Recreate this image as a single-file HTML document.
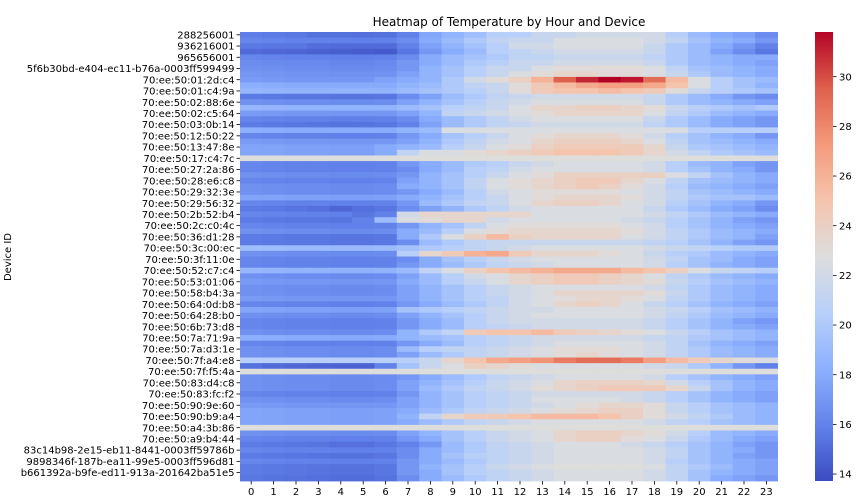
<!DOCTYPE html>
<html><head><meta charset="utf-8">
<style>
html,body{margin:0;padding:0;background:#fff;}
svg{display:block;font-family:"DejaVu Sans","Liberation Sans",sans-serif;}
</style></head>
<body>
<svg id="chart" width="864" height="501" viewBox="0 0 864 501" xmlns="http://www.w3.org/2000/svg">
<text x="509" y="26" text-anchor="middle" font-size="12" fill="#000">Heatmap of Temperature by Hour and Device</text>
<text transform="translate(11,257) rotate(-90)" text-anchor="middle" font-size="10" fill="#000">Device ID</text>
<g id="cells"></g>
<g id="yticks"></g>
<g id="xticks"></g>
<defs><linearGradient id="cbgrad" x1="0" y1="1" x2="0" y2="0">
<stop offset="0" stop-color="rgb(59,76,192)"/><stop offset="0.125" stop-color="rgb(98,130,234)"/><stop offset="0.25" stop-color="rgb(141,176,254)"/><stop offset="0.375" stop-color="rgb(184,208,249)"/><stop offset="0.5" stop-color="rgb(221,221,221)"/><stop offset="0.625" stop-color="rgb(245,196,173)"/><stop offset="0.75" stop-color="rgb(244,154,123)"/><stop offset="0.875" stop-color="rgb(222,96,77)"/><stop offset="1" stop-color="rgb(180,4,38)"/>
</linearGradient></defs>
<rect x="815" y="32" width="18" height="449" fill="url(#cbgrad)"/>
<g id="cbticks"></g>
</svg>
<script>
const hours = [0,1,2,3,4,5,6,7,8,9,10,11,12,13,14,15,16,17,18,19,20,21,22,23];
const yLabels = ["288256001","936216001","965656001","5f6b30bd-e404-ec11-b76a-0003ff599499","70:ee:50:01:2d:c4","70:ee:50:01:c4:9a","70:ee:50:02:88:6e","70:ee:50:02:c5:64","70:ee:50:03:0b:14","70:ee:50:12:50:22","70:ee:50:13:47:8e","70:ee:50:17:c4:7c","70:ee:50:27:2a:86","70:ee:50:28:e6:c8","70:ee:50:29:32:3e","70:ee:50:29:56:32","70:ee:50:2b:52:b4","70:ee:50:2c:c0:4c","70:ee:50:36:d1:28","70:ee:50:3c:00:ec","70:ee:50:3f:11:0e","70:ee:50:52:c7:c4","70:ee:50:53:01:06","70:ee:50:58:b4:3a","70:ee:50:64:0d:b8","70:ee:50:64:28:b0","70:ee:50:6b:73:d8","70:ee:50:7a:71:9a","70:ee:50:7a:d3:1e","70:ee:50:7f:a4:e8","70:ee:50:7f:f5:4a","70:ee:50:83:d4:c8","70:ee:50:83:fc:f2","70:ee:50:90:9e:60","70:ee:50:90:b9:a4","70:ee:50:a4:3b:86","70:ee:50:a9:b4:44","83c14b98-2e15-eb11-8441-0003ff59786b","9898346f-187b-ea11-99e5-0003ff596d81","b661392a-b9fe-ed11-913a-201642ba51e5"];
const cbTicks = [14,16,18,20,22,24,26,28,30];
const temps = [
[15.8,15.7,15.6,15.3,15.3,15.2,15.3,16,17.8,18.5,19.3,20.5,20.5,21.5,21.5,22,22,22,22,20.5,19,18,17.5,16.5],
[16.2,16.1,16,16,16,15.9,16,16.5,18,19,20,21,21.5,21.5,22.5,22.5,22.5,22.5,22,21,19.5,18.5,18,17],
[15.6,15.5,15.5,15.1,15,15,15,16,17.5,18.5,19.5,20.5,22,22,22.5,22.5,22.5,22.5,21.5,20,19,18,17,16],
[15,14.9,14.8,14.6,14.5,14.4,14.3,15.5,17,18,19,20.5,21,21.5,22,22,22,22,21.5,20,19,17.5,16.5,15.5],
[16.2,16.1,16,16,15.9,15.9,16,16.5,18,19,19.5,20,21,21,21.5,21.5,21.5,21.5,21,20,19,18.5,18,18],
[16.5,16.4,16.3,16.3,16.2,16.2,16.3,17,18,19,20,20.5,21.5,21.5,22,22,22,22,21.5,20,19,18.5,18,17.5],
[16.7,16.6,16.5,16.5,16.4,16.4,16.5,17,18.5,19.5,20.5,21.5,21.5,22.5,23,23,23,23,22.5,21,19.5,19,18.5,18],
[17,16.9,16.8,16.8,16.7,16.7,16.8,17.5,18.5,19.5,20.5,21.5,22.5,23,23.5,23.5,23,23,22.5,21.5,20,19,18.5,18],
[17.2,17.1,17,17,17,17,17.5,18,18.5,20,22,23,24,26,29.5,31,31.8,31.3,29,25.5,22.5,20.5,19.5,19],
[18.2,18.1,18,18,18,18,18,18.5,19,20,21,21.5,23,24.5,25.5,26.5,27,27,26.5,25,22.5,20.5,19.5,18.5],
[18.7,18.6,18.5,18.5,18.5,18.5,18.5,19,19.5,20,20.5,21.5,23,24.5,25,25,25.5,25,24.5,23,21.5,20.5,20,19.5],
[15.7,15.6,15.5,15.5,15.4,15.4,15.5,16.5,17.5,19,20,21,21.5,22,22,22,22,22,21.5,20,19,18,17,16.5],
[16.7,16.6,16.5,16.5,16.4,16.4,16.5,17.5,18.5,19.5,20.5,21.5,22,22.5,22.5,22.5,22.5,22.5,21.5,20,19,18.5,18,17.5],
[18.7,18.6,18.5,18.5,18.5,18.5,18.5,19,19.5,20.5,21,21.5,22.5,23.5,23.5,24,24,23.5,23,21.5,20.5,20,19.5,20],
[17.2,17.1,17,17,16.9,16.9,17,17.5,18.5,21,21.5,22,22.5,23,23.5,23.5,23.5,23.5,22.5,21,20,19,18.5,18],
[16.2,16.1,16,16,15.9,15.9,16,16.5,18,19,20,21,22,22.5,22.5,22.5,22.5,22.5,21.5,20,19,18,17.5,17],
[15.7,15.6,15.5,15.4,15.3,15.4,15.5,16,17.5,19,20,21,21.5,22,22,22,22,22,21,20,19,18,17.5,17],
[18.2,18.1,18,18,18,18,18,18.5,19,22.5,22.5,22.5,22.5,22.5,22.5,22.5,22.5,22.5,22.5,22.5,20.5,20.5,20.5,20.5],
[16.2,16.1,16,16,15.9,15.9,16,17,18,19.5,20.5,21.5,22.5,23,23.5,23.5,23.5,23,22,20.5,19.5,18.5,18,17],
[17.2,17.1,17,17,16.9,16.9,17,17.5,18.5,20,21,22,22.5,23.5,24,24,24,23.5,22.5,21,19.5,19,18.5,18],
[17.7,17.6,17.5,17.5,17.4,17.4,18,18.5,19,20.5,21.5,22.5,23,24,24.5,24.5,24.5,24.5,23.5,21.5,20,19.5,19,18.5],
[17.7,17.6,17.5,17.5,17.4,17.4,18,21,22.5,22.5,23,23.5,24,24.5,25,25,25,24.5,23.5,22,21,20,19.5,19],
[22.8,22.8,22.8,22.8,22.8,22.8,22.8,22.8,22.8,22.8,22.8,22.8,22.8,22.8,22.8,22.8,22.8,22.8,22.8,22.8,22.8,22.8,22.8,22.8],
[16.2,16.1,16,16,15.9,15.9,16,17,18,19,20,20.5,21.5,22,22.5,22.5,22.5,22.5,22,20.5,19,18.5,17.5,17],
[16.2,16.1,16,16,15.9,15.9,16,16.5,18,19,20.5,21,22,22.5,22.5,22.5,22.5,22.5,22,20.5,19.5,18.5,18,17],
[16.7,16.6,16.5,16.5,16.4,16.4,16.5,17,18.5,19.5,20.5,21.5,22.5,23,24,24,24,24,24,22.5,21,19.5,18.5,18],
[16.2,16.1,16,16,15.9,15.9,16,17.5,18.5,19.5,21,22.5,23,23.5,24,24.5,24.5,23.5,22.5,21,19.5,19,18.5,18],
[16.7,16.6,16.5,16.5,16.4,16.4,16.5,18,18.5,19.5,21,22.5,23,23.5,24,24.5,24,23,22,20.5,19,18.5,18,17.5],
[16.7,16.6,16.5,16.5,16.4,16.4,16.5,17,18,19,20.5,22,22.5,23,23,23,23,22.5,22,21,19.5,19,18.5,18],
[17.7,17.6,17.5,17.5,17.4,17.4,17.5,18,18.5,19.5,20.5,21.5,22.5,23,23.5,23.5,23.5,23,22,21,20,19.5,19.5,19],
[16.2,16.1,16,16,15.9,15.9,16,17,19,20,21,21.5,22.5,23.5,24,24,23.5,22.5,22,20.5,19.5,18.5,18,17],
[15.7,15.6,15.4,15.2,14.8,15.2,15.5,16.5,17.5,18.5,20,21,22,22.5,22.5,22.5,22.5,22.5,21.5,20,19,18,17.5,16.5],
[16.2,16.1,16,16,15.9,15.5,16,22,23.5,23.5,23.5,23.5,23.5,22.5,22.5,22.5,22.5,22.5,22,21,20,19,18.5,18],
[15.7,15.6,15.5,15.5,15.4,16,19,22.5,23,23.5,23.5,22,22.5,22.5,22.5,22.5,22.5,22,21.5,20.5,19.5,18.5,17.5,17],
[16.2,16.1,16,16,15.9,15.9,16,17,18.5,19.5,21,22.5,23,23,23,23,23,22.5,22,20.5,19.5,18.5,18,17.5],
[16.7,16.6,16.5,16.5,16.4,16.4,16.5,18,19,20.5,22.5,23,23.5,23.5,23.5,23.5,23.5,23,22,21,20,19,18.5,18],
[15.7,15.6,15.5,15.5,15.4,15.4,15.5,18,20,22.5,24,25.5,24,23.5,23.5,23.5,23.5,22.5,22,21,20,19,18.5,17.5],
[15.7,15.6,15.5,15.5,15.4,15.4,15.5,16.5,19,20,21,21.5,21.5,21.5,21.5,21.5,21.5,21.5,21,20.5,19.5,18.5,17.5,17],
[19.2,19.1,19,19,18.9,18.9,19,19.5,20,20.5,21,21.5,22,22.5,22.5,22.5,22.5,22.5,22,21.5,21,20.5,20,20],
[16.7,16.6,16.5,16.5,16.4,16.4,16.5,20.5,23.5,24.5,26,26.5,24.5,23.5,23.5,23.5,23,22.5,21.5,20.5,20,19,18.5,18],
[16.2,16.1,16,16,15.9,15.9,16,16.5,18,19.5,20.5,21.5,22,22.5,22.5,22.5,22.5,22.5,22,21,19.5,19,18,17.5],
[16.2,16.1,16,16,15.9,15.9,16,17,18,19,20,21,21.5,22,22.5,22.5,22.5,22.5,22,20.5,19.5,18.5,18,17.5],
[18.7,18.6,18.5,18.5,18.4,18.4,18.5,19,21,22.5,24,25,25.5,26,26.5,26.5,26.5,25.5,25,24,22.5,21.5,21,20.5],
[16.7,16.6,16.5,16.5,16.4,16.4,16.5,17.5,19,20.5,22,22.5,23.5,24,24.5,24.5,24,23.5,22.5,21,20,19,18.5,18],
[17.2,17.1,17,17,16.9,16.9,17,18,19,20.5,21.5,22.5,23.5,24,24.5,24.5,24,23.5,23,21.5,20.5,19.5,19,18.5],
[16.7,16.6,16.5,16.5,16.4,16.4,16.5,17.5,18.5,19.5,20.5,21.5,22,22.5,22.5,22.5,22.5,22.5,22,21,20,19,18.5,18],
[16.7,16.6,16.5,16.5,16.4,16.4,16.5,17.5,18.5,19.5,20.5,21.5,22,22.5,23.5,23.5,23.5,23.5,23,21.5,20,19,18.5,18],
[17.2,17.1,17,17,16.9,16.9,17,17.5,18.5,19.5,20.5,21,22,22.5,23,23.5,23.5,23,22.5,21,20,19,18.5,18],
[16.2,16.1,16,16,15.9,15.9,16,17,18,19,20,21,22,22.5,23.5,24,23.5,22.5,21.5,20.5,19.5,18.5,18,17.5],
[17.7,17.6,17.5,17.5,17.4,17.4,17.5,19.5,20,20.5,21,21.5,22,22,22.5,22.5,22.5,22.5,22,21.5,20.5,19.5,19,18.5],
[16.7,16.6,16.5,16.5,16.4,16.4,16.5,17.5,18.5,19.5,20.5,21.5,22,22.5,22.5,22.5,22.5,22.5,22,21,20,19,18.5,18],
[16.2,16.1,16,16,15.9,15.9,16,17,18,19,20.5,21.5,22,22,22,22,22,22,21.5,20.5,19.5,18.5,17.5,17],
[16.2,16.1,16,16,15.9,15.9,16,17,18,19,20.5,21,21.5,22,22,22,22,22,21.5,20.5,19.5,18.5,18,17.5],
[16.7,16.6,16.5,16.5,16.4,16.4,16.5,18.5,20,21,24.5,25,25,25.5,24.5,24,23.5,23,22.5,21.5,20.5,19.5,19,18.5],
[18.2,18.1,18,18,17.9,17.9,18,18.5,19,19.5,20.5,21,21.5,22,22,22,22,22,21.5,21,20,19.5,19,18.5],
[16.2,16.1,16,16,15.9,15.9,16,17,18,19,20.5,21,21.5,22,22.5,22.5,22.5,22.5,22,21,19.5,18.5,18,17.5],
[16.7,16.6,16.5,16.5,16.4,16.4,16.5,19,20.5,21,21,21.5,22,22.5,23,23,23,22.5,22,21,20,19,18.5,18],
[16.7,16.6,16.5,16.5,16.4,16.4,16.5,17.5,19,20,21,21.5,22,22.5,23,23.5,23,22.5,22,21,20,19,18.5,18],
[20.5,20.5,20.5,20.5,20.5,20.5,20.5,20.5,21.5,23.5,25,26.5,27,27.5,28.5,29,29,28.5,27,25.5,24.5,23.5,23,22.5],
[15.3,15,14.9,14.8,14.7,14.7,16,19.5,21.5,22.5,24,23.5,23,22.5,22.5,22.5,22.5,22.5,22,21.5,20,18.5,17,16],
[22.8,22.8,22.8,22.8,22.8,22.8,22.8,22.8,22.8,22.8,22.8,22.8,22.8,22.8,22.8,22.8,22.8,22.8,22.8,22.8,22.8,22.8,22.8,22.8],
[16.7,16.6,16.5,16.5,16.4,16.4,16.5,17,18,19,20,21,21.5,22,22.5,22.5,22.5,22.5,22,20.5,19.5,18.5,18,17.5],
[16.7,16.6,16.5,16.5,16.4,16.4,16.5,17.5,18.5,19.5,20.5,21.5,22,22.5,23.5,24,24,24,23.5,22,20.5,19.5,18.5,18],
[16.7,16.6,16.5,16.5,16.4,16.4,16.5,17.5,19,20,21,21.5,22,23,23.5,24,24.5,24.5,24.5,23.5,21.5,19.5,18.5,18],
[16.2,16.1,16,16,15.9,15.9,16,17,18.5,19.5,20.5,21,21.5,22,22,22,22,22,21.5,20.5,19.5,18.5,18,17.5],
[16.7,16.6,16.5,16.5,16.4,16.4,16.5,17.5,18.5,19.5,20.5,21,21.5,22.5,22.5,22.5,22.5,22,21.5,20.5,19.5,18.5,18,17.5],
[17.2,17.1,17,17,16.9,16.9,17,17.5,18.5,19.5,20.5,21,21.5,22,22.5,23,23.5,23.5,23,21.5,20.5,19.5,19,18.5],
[17.7,17.6,17.5,17.5,17.4,17.4,17.5,18,19,20,21,21.5,22,22.5,23,23.5,24,24,23,21.5,20.5,19.5,19,18.5],
[17.7,17.6,17.5,17.5,17.4,17.4,17.5,18.5,21,23.5,24.5,24.5,25,25.5,25.5,25.5,25,24,23,22,21,20,19,18.5],
[17.7,17.6,17.5,17.5,17.4,17.4,17.5,18,19,20,21,21.5,22,22.5,22.5,22.5,22.5,22.5,22,21,20.5,19.5,19,18.5],
[22.8,22.8,22.8,22.8,22.8,22.8,22.8,22.8,22.8,22.8,22.8,22.8,22.8,22.8,22.8,22.8,22.8,22.8,22.8,22.8,22.8,22.8,22.8,22.8],
[16.7,16.6,16.5,16.5,16.4,16.4,16.5,17.5,18.5,19.5,20.5,21.5,22,22.5,23.5,24,24,23.5,23,22,20.5,19,18.5,18],
[16.2,16.1,16,16,15.9,15.9,16,17,18,19.5,20.5,21.5,22,22.5,23.5,24,24,23,22.5,21.5,20,19,18,17.5],
[15.7,15.6,15.5,15.4,15.2,15.2,15.5,16,17,19,20,21,21.5,22,22.5,22.5,22.5,22,21.5,20.5,19.5,18.5,17.5,17],
[16.2,16.1,16,16,15.9,15.9,16,16.5,18,19,20,21,21.5,22,22.5,22.5,22.5,22.5,22,21,19.5,18.5,18,17],
[15.7,15.6,15.5,15.4,15.3,15.3,15.5,16.5,18,19.5,20.5,21,21.5,22,22.5,22.5,22.5,22.5,22,21,19.5,18.5,17.5,17],
[16.2,16.1,16,16,15.9,15.9,16,17,18,19,20,21,21.5,22,22.5,22.5,22.5,22.5,22,20.5,19.5,18.5,18,17.5],
[15.7,15.6,15.5,15.4,15.3,15.3,15.5,17,18.5,19.5,20.5,21.5,22,22.5,22.8,22.8,22.8,22.8,22.5,21,20,19,18,17.5],
[15.7,15.6,15.5,15.4,15.3,15.3,15.5,17,18,19.5,20.5,21,21.5,22,22.5,22.5,22.5,22.5,22,21,19.5,18.5,18,17.5],
[15.5,15.4,15.3,15.2,15.1,15.1,15.3,16.5,18,19,20,21,21.5,22,22.5,22.5,22.5,22.5,22,21,19.5,18,17.5,17]
];

const NS = "http://www.w3.org/2000/svg";
const X0 = 240, X1 = 777.6, Y0 = 32, Y1 = 481;
const VMIN = 13.72, VMAX = 31.8;
const cellW = (X1 - X0) / hours.length;
const cellH = (Y1 - Y0) / temps.length;
function xScale(i){ return X0 + i * cellW; }
function yScale(r){ return Y0 + r * cellH; }
function cbScale(v){ return Y1 - (v - VMIN) / (VMAX - VMIN) * (Y1 - Y0); }
const stops = [[0,59,76,192],[0.125,98,130,234],[0.25,141,176,254],[0.375,184,208,249],[0.5,221,221,221],[0.625,245,196,173],[0.75,244,154,123],[0.875,222,96,77],[1,180,4,38]];
function color(v){
  let t = Math.max(0, Math.min(1, (v - VMIN) / (VMAX - VMIN)));
  for (let i = 1; i < stops.length; i++) {
    if (t <= stops[i][0]) {
      const a = stops[i-1], b = stops[i], f = (t - a[0]) / (b[0] - a[0]);
      return "rgb(" + [1,2,3].map(k => Math.round(a[k] + (b[k]-a[k]) * f)).join(",") + ")";
    }
  }
  return "rgb(180,4,38)";
}
function mk(tag, attrs, parent){
  const e = document.createElementNS(NS, tag);
  for (const k in attrs) e.setAttribute(k, attrs[k]);
  parent.appendChild(e);
  return e;
}
const cells = document.getElementById("cells");
temps.forEach((row, r) => {
  row.forEach((v, c) => {
    const rc = mk("rect", {x: xScale(c).toFixed(2), y: yScale(r).toFixed(2), width: (cellW + 0.4).toFixed(2), height: (cellH + 0.4).toFixed(2), fill: color(v)}, cells);
    
    
  });
});
const yt = document.getElementById("yticks");
yLabels.forEach((lab, i) => {
  const y = yScale(i * 2 + 0.5);
  const tk = mk("line", {x1: X0 - 3.5, x2: X0, y1: y, y2: y, stroke: "#000", "stroke-width": 0.8}, yt);
  
  
  const t = mk("text", {x: X0 - 5.5, y: y + 3.6, "text-anchor": "end", "font-size": "10", fill: "#000"}, yt);
  t.textContent = lab;
  
  
});
const xt = document.getElementById("xticks");
hours.forEach((h, i) => {
  const x = xScale(i + 0.5);
  const tk = mk("line", {x1: x, x2: x, y1: Y1, y2: Y1 + 3.5, stroke: "#000", "stroke-width": 0.8}, xt);
  
  
  const t = mk("text", {x: x, y: Y1 + 14, "text-anchor": "middle", "font-size": "10", fill: "#000"}, xt);
  t.textContent = h;
  
  
});
const cb = document.getElementById("cbticks");
cbTicks.forEach(v => {
  const y = cbScale(v);
  const tk = mk("line", {x1: 833, x2: 836.5, y1: y, y2: y, stroke: "#000", "stroke-width": 0.8}, cb);
  
  
  const t = mk("text", {x: 839, y: y + 3.6, "font-size": "10", fill: "#000"}, cb);
  t.textContent = v;
  
  
});
</script>
</body></html>
